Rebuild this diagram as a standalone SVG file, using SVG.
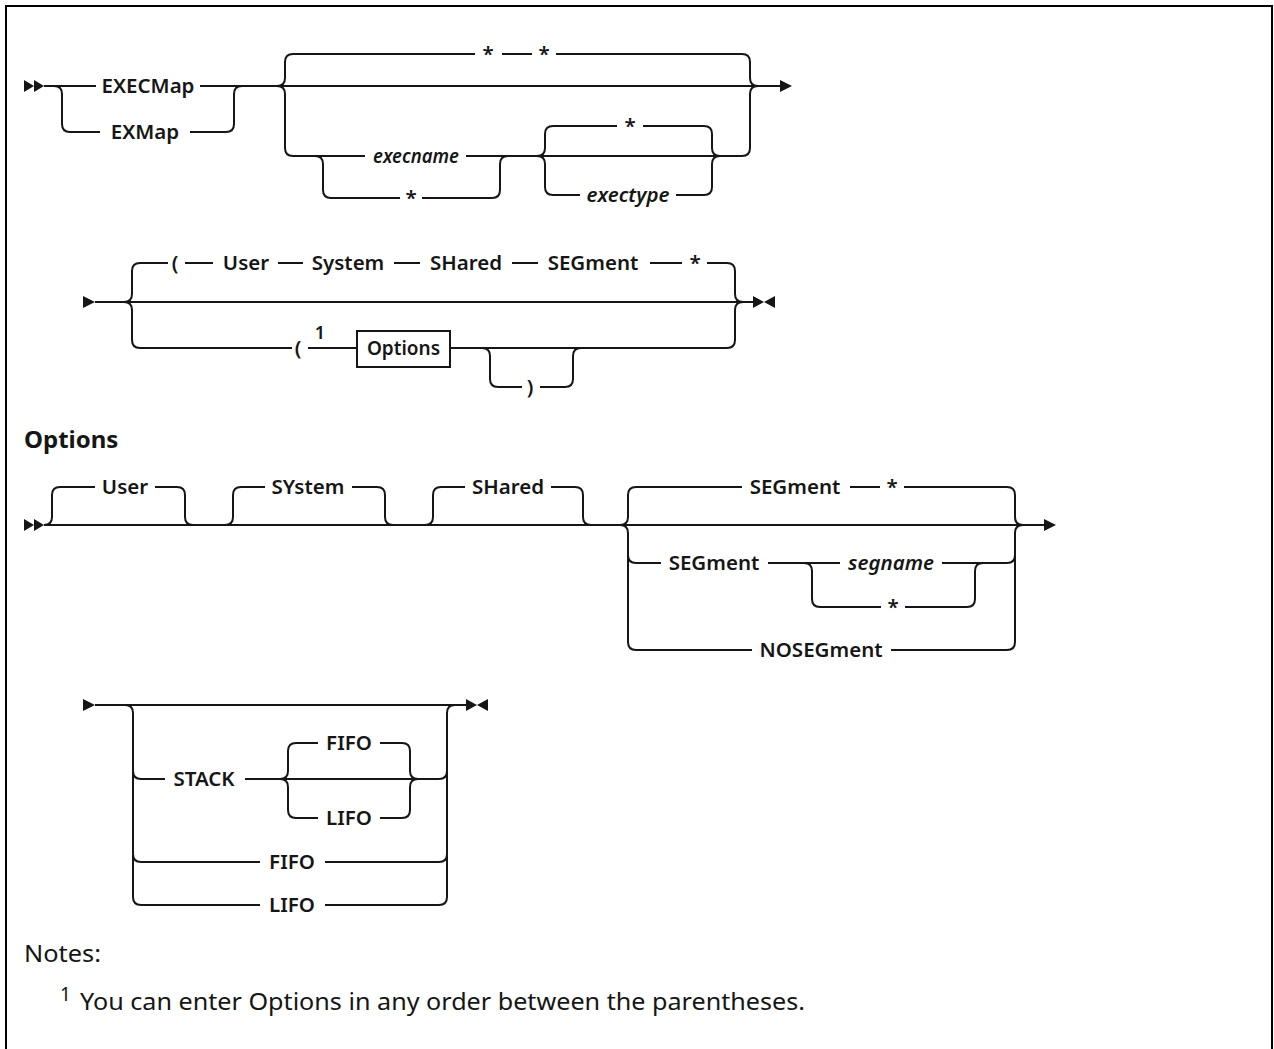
<svg xmlns="http://www.w3.org/2000/svg" width="1274" height="1049" viewBox="0 0 1274 1049">
<style>
.t{font-family:"Noto Sans","Liberation Sans",sans-serif;font-size:20.5px;font-weight:600;fill:#161616;text-anchor:middle}
.i{font-style:italic}
.c path{fill:none;stroke:#161616;stroke-width:2}
.h{font-family:"Noto Sans","Liberation Sans",sans-serif;font-size:24px;font-weight:700;fill:#161616}
.n{font-family:"Noto Sans","Liberation Sans",sans-serif;font-size:24px;fill:#161616}
.m{fill:#161616}
</style>
<rect x="6" y="6" width="1266" height="1100" fill="#fff" stroke="#000" stroke-width="2"/>
<g id="connectors" class="c">
<path d="M44 86H96M200 86H780"/>
<path d="M54 86q8 0 8 8v30q0 8 8 8H100M190 132H226q8 0 8-8v-30q0-8 8-8"/>
<path d="M277 86q8 0 8-8v-16q0-8 8-8H475M502 54H532M556 54H742q8 0 8 8v16q0 8 8 8"/>
<path d="M277 86q8 0 8 8v54q0 8 8 8H365M466 156H742q8 0 8-8v-54q0-8 8-8"/>
<path d="M315 156q8 0 8 8v26q0 8 8 8H400M422 198H492q8 0 8-8v-26q0-8 8-8"/>
<path d="M537 156q8 0 8-8v-14q0-8 8-8H617M643 126H704q8 0 8 8v14q0 8 8 8"/>
<path d="M537 156q8 0 8 8v23q0 8 8 8H580M676 195H704q8 0 8-8v-23q0-8 8-8"/>
<path d="M95 302H753"/>
<path d="M124 302q8 0 8-8v-23q0-8 8-8H168M185 263H213M278 263H303M394 263H420M512 263H538M650 263H682M707 263H727q8 0 8 8v23q0 8 8 8"/>
<path d="M124 302q8 0 8 8v30q0 8 8 8H292M308 348H357M450 348H727q8 0 8-8v-30q0-8 8-8"/>
<path d="M482 348q8 0 8 8v23q0 8 8 8H522M540 387H565q8 0 8-8v-23q0-8 8-8"/>
<path d="M44 525H1044"/>
<path d="M44 525q8 0 8-8v-22q0-8 8-8H95M155 487H177q8 0 8 8v22q0 8 8 8"/>
<path d="M225 525q8 0 8-8v-22q0-8 8-8H265M352 487H377q8 0 8 8v22q0 8 8 8"/>
<path d="M425 525q8 0 8-8v-22q0-8 8-8H465M551 487H575q8 0 8 8v22q0 8 8 8"/>
<path d="M620 525q8 0 8-8v-22q0-8 8-8H742M850 487H880M904 487H1007q8 0 8 8v22q0 8 8 8"/>
<path d="M620 525q8 0 8 8v22q0 8 8 8H661M768 563H840M942 563H1007q8 0 8-8v-22q0-8 8-8"/>
<path d="M804 563q8 0 8 8v28q0 8 8 8H881M905 607H967q8 0 8-8v-28q0-8 8-8"/>
<path d="M628 555V642q0 8 8 8H752M891 650H1007q8 0 8-8V555"/>
<path d="M95 705H466"/>
<path d="M125 705q8 0 8 8v58q0 8 8 8H165M245 779H439q8 0 8-8v-58q0-8 8-8"/>
<path d="M280 779q8 0 8-8v-20q0-8 8-8H318M380 743H402q8 0 8 8v20q0 8 8 8"/>
<path d="M280 779q8 0 8 8v23q0 8 8 8H318M380 818H402q8 0 8-8v-23q0-8 8-8"/>
<path d="M133 771V854q0 8 8 8H260M325 862H439q8 0 8-8V771"/>
<path d="M133 854V897q0 8 8 8H260M325 905H439q8 0 8-8V854"/>
</g>
<g id="markers" class="m">
<polygon points="24,80 34,86 24,92"/><polygon points="34,80 44,86 34,92"/>
<polygon points="780,80 792,86 780,92"/>
<polygon points="83,296 95,302 83,308"/>
<polygon points="753,296 764,302 753,308"/><polygon points="775,296 764,302 775,308"/>
<polygon points="24,519 34,525 24,531"/><polygon points="34,519 44,525 34,531"/>
<polygon points="1044,519 1056,525 1044,531"/>
<polygon points="83,699 95,705 83,711"/>
<polygon points="466,699 477,705 466,711"/><polygon points="488,699 477,705 488,711"/>
</g>
<g id="row1">
<text class="t" x="148" y="93">EXECMap</text>
<text class="t" x="145" y="139">EXMap</text>
<text class="t" x="488" y="61">*</text>
<text class="t" x="544" y="61">*</text>
<text class="t i" x="416" y="163" textLength="86" lengthAdjust="spacingAndGlyphs">execname</text>
<text class="t" x="411" y="205">*</text>
<text class="t" x="630" y="133">*</text>
<text class="t i" x="628" y="202">exectype</text>
</g>
<g id="row2">
<text class="t" x="175" y="270">(</text>
<text class="t" x="246" y="270">User</text>
<text class="t" x="348" y="270">System</text>
<text class="t" x="466" y="270">SHared</text>
<text class="t" x="593" y="270">SEGment</text>
<text class="t" x="695" y="270">*</text>
<text class="t" x="298" y="355">(</text>
<text class="t" x="320" y="339" style="font-size:18px">1</text>
<g id="options-box"><rect x="357" y="331" width="93" height="36" fill="#fff" stroke="#161616" stroke-width="2"/>
<text class="t" x="403.5" y="355" style="font-size:19px">Options</text></g>
<text class="t" x="530" y="394">)</text>
</g>
<text class="h" x="24" y="448">Options</text>
<g id="row3">
<text class="t" x="125" y="494">User</text>
<text class="t" x="308" y="494">SYstem</text>
<text class="t" x="508" y="494">SHared</text>
<text class="t" x="795" y="494">SEGment</text>
<text class="t" x="892" y="494">*</text>
<text class="t" x="714" y="570">SEGment</text>
<text class="t i" x="891" y="570">segname</text>
<text class="t" x="893" y="614">*</text>
<text class="t" x="821" y="657">NOSEGment</text>
</g>
<g id="row4">
<text class="t" x="204" y="786">STACK</text>
<text class="t" x="349" y="750">FIFO</text>
<text class="t" x="349" y="825">LIFO</text>
<text class="t" x="292" y="869">FIFO</text>
<text class="t" x="292" y="912">LIFO</text>
</g>
<g id="notes">
<text class="n" x="24" y="962" textLength="77" lengthAdjust="spacingAndGlyphs">Notes:</text>
<text class="n" x="60" y="1001" style="font-size:19px">1</text>
<text class="n" x="80" y="1010" textLength="725" lengthAdjust="spacingAndGlyphs">You can enter Options in any order between the parentheses.</text>
</g>
</svg>
